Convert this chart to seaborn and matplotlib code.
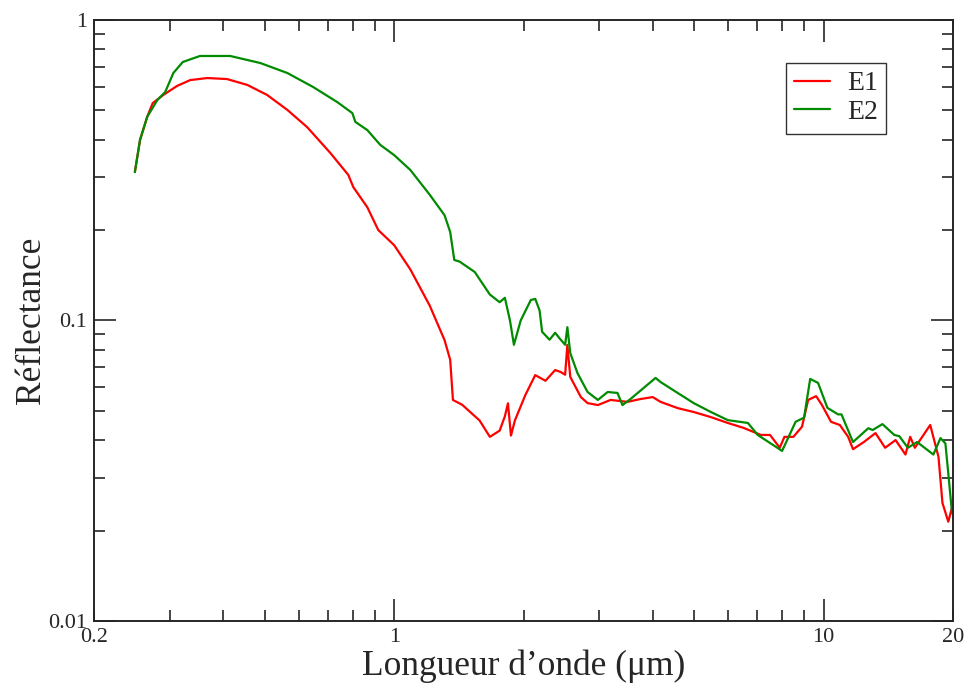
import numpy as np
import pandas as pd
import matplotlib
matplotlib.use("Agg")
import matplotlib.pyplot as plt
import matplotlib.ticker as mticker
import seaborn as sns

# E1 (red) wavelength (um) and reflectance
e1_x = [0.249, 0.256, 0.266, 0.274, 0.290, 0.312, 0.335, 0.367, 0.408, 0.455, 0.506, 0.564, 0.627,
        0.710, 0.782, 0.803, 0.866, 0.918, 1.00, 1.09, 1.21, 1.31, 1.35, 1.37, 1.44, 1.58, 1.67, 1.76,
        1.81, 1.84, 1.87, 1.91, 2.02, 2.13, 2.25, 2.37, 2.44, 2.50, 2.53, 2.57, 2.72, 2.82, 2.98, 3.19,
        3.49, 3.75, 4.00, 4.17, 4.57, 4.98, 5.46, 5.98, 6.51, 7.14, 7.50, 7.90, 8.10, 8.50, 8.90, 9.20,
        9.60, 9.90, 10.4, 10.9, 11.4, 11.7, 12.4, 13.2, 13.9, 14.7, 15.5, 15.9, 16.3, 17.7, 18.5, 18.9,
        19.5, 19.9]
e1_y = [0.312, 0.399, 0.476, 0.529, 0.563, 0.603, 0.631, 0.641, 0.636, 0.608, 0.563, 0.502, 0.440,
        0.361, 0.305, 0.278, 0.238, 0.200, 0.178, 0.148, 0.112, 0.086, 0.074, 0.0544, 0.0524, 0.0465, 0.041, 0.043,
        0.048, 0.053, 0.0414, 0.0465, 0.0565, 0.0658, 0.063, 0.0684, 0.0674, 0.066, 0.0829, 0.0649, 0.0556, 0.0531, 0.0523, 0.0544,
        0.0536, 0.0548, 0.0556, 0.0536, 0.0511, 0.0496, 0.0477, 0.0456, 0.0439, 0.0416, 0.0416, 0.0377, 0.041, 0.041, 0.0443, 0.0544,
        0.056, 0.0524, 0.046, 0.0449, 0.041, 0.0373, 0.0394, 0.0422, 0.0377, 0.040, 0.0358, 0.041, 0.0377, 0.0449, 0.0352, 0.0247,
        0.0214, 0.0239]

# E2 (green)
e2_x = [0.249, 0.256, 0.266, 0.281, 0.293, 0.306, 0.322, 0.353, 0.415, 0.488, 0.564, 0.648, 0.737,
        0.799, 0.812, 0.866, 0.928, 1.00, 1.09, 1.21, 1.31, 1.35, 1.38, 1.42, 1.54, 1.67, 1.76, 1.81,
        1.86, 1.90, 1.97, 2.08, 2.13, 2.18, 2.21, 2.30, 2.37, 2.43, 2.50, 2.53, 2.57, 2.67, 2.82, 2.98,
        3.14, 3.31, 3.40, 3.55, 4.06, 4.17, 4.57, 4.98, 5.46, 5.98, 6.66, 7.02, 7.80, 8.00, 8.60, 9.00,
        9.30, 9.70, 10.2, 10.8, 11.0, 11.7, 12.7, 13.0, 13.7, 14.6, 15.0, 15.7, 16.5, 18.0, 18.7, 19.2,
        19.5, 19.9]
e2_y = [0.312, 0.399, 0.476, 0.542, 0.576, 0.666, 0.725, 0.759, 0.759, 0.719, 0.666, 0.598, 0.533,
        0.490, 0.458, 0.430, 0.384, 0.355, 0.317, 0.262, 0.224, 0.197, 0.159, 0.157, 0.145, 0.122, 0.115, 0.119,
        0.100, 0.083, 0.100, 0.117, 0.118, 0.108, 0.0917, 0.0863, 0.091, 0.0870, 0.083, 0.095, 0.0779, 0.0669, 0.0578, 0.0544,
        0.0578, 0.0574, 0.0523, 0.0548, 0.0644, 0.0624, 0.0574, 0.0531, 0.0496, 0.0466, 0.0456, 0.0416, 0.0377, 0.0368, 0.046, 0.0475,
        0.0639, 0.062, 0.0512, 0.0487, 0.0487, 0.0394, 0.0438, 0.0432, 0.0452, 0.0416, 0.0412, 0.0377, 0.0394, 0.0358, 0.0406, 0.039,
        0.031, 0.0228]

series_names = ["E1", "E2"]
colors = ["#ff0000", "#008b00"]

x_major = [1, 10]
x_major_labels = ["1", "10"]
x_end_ticks = [0.2, 20]
x_end_labels = ["0.2", "20"]
y_ticks = [0.01, 0.1, 1]
y_ticklabels = ["0.01", "0.1", "1"]

df = pd.concat([
    pd.DataFrame({"x": e1_x, "y": e1_y, "s": series_names[0]}),
    pd.DataFrame({"x": e2_x, "y": e2_y, "s": series_names[1]}),
], ignore_index=True)

sns.set_style("ticks")
plt.rcParams["font.family"] = ["Liberation Serif", "DejaVu Serif"]

fig = plt.figure(figsize=(9.69, 6.87), dpi=100)
ax = fig.add_axes([0.097, 0.0961, 0.8865, 0.8748])

sns.lineplot(data=df, x="x", y="y", hue="s", palette=colors, sort=False,
             estimator=None, linewidth=1.6, ax=ax)

ax.set_xscale("log")
ax.set_yscale("log")

ax.xaxis.set_minor_locator(mticker.LogLocator(base=10, subs=np.arange(2, 10)))
ax.xaxis.set_minor_formatter(mticker.NullFormatter())
ax.yaxis.set_minor_locator(mticker.LogLocator(base=10, subs=np.arange(2, 10)))
ax.yaxis.set_minor_formatter(mticker.NullFormatter())
ax.set_yticks(y_ticks)
ax.set_yticklabels(y_ticklabels)
ax.set_xticks(x_major)
ax.set_xticklabels(x_major_labels)
ax.set_xlim(0.2, 20)
ax.set_ylim(0.01, 1)
for xv, lab in zip(x_end_ticks, x_end_labels):
    ax.text(xv, -0.012, lab, transform=ax.get_xaxis_transform(), ha="center", va="top", fontsize=16)

ax.tick_params(which="both", direction="in", top=True, right=True, labelsize=16, width=1.2)
ax.tick_params(which="major", length=16, pad=5)
ax.tick_params(which="minor", length=8)
for sp in ax.spines.values():
    sp.set_linewidth(1.4)
    sp.set_visible(True)

ax.set_xlabel("Longueur d\u2019onde (\u03bcm)", fontsize=25.5, labelpad=2)
ax.set_ylabel("R\u00e9flectance", fontsize=25.5, labelpad=0)

leg = ax.legend(loc="upper right", bbox_to_anchor=(0.922, 0.929), fontsize=20, frameon=True,
                fancybox=False, edgecolor="black", handlelength=1.3, borderpad=0.3,
                labelspacing=0.12, handletextpad=0.6, borderaxespad=0)
leg.get_frame().set_linewidth(1.0)
leg.set_title(None)

fig.savefig("out.png", dpi=100)
